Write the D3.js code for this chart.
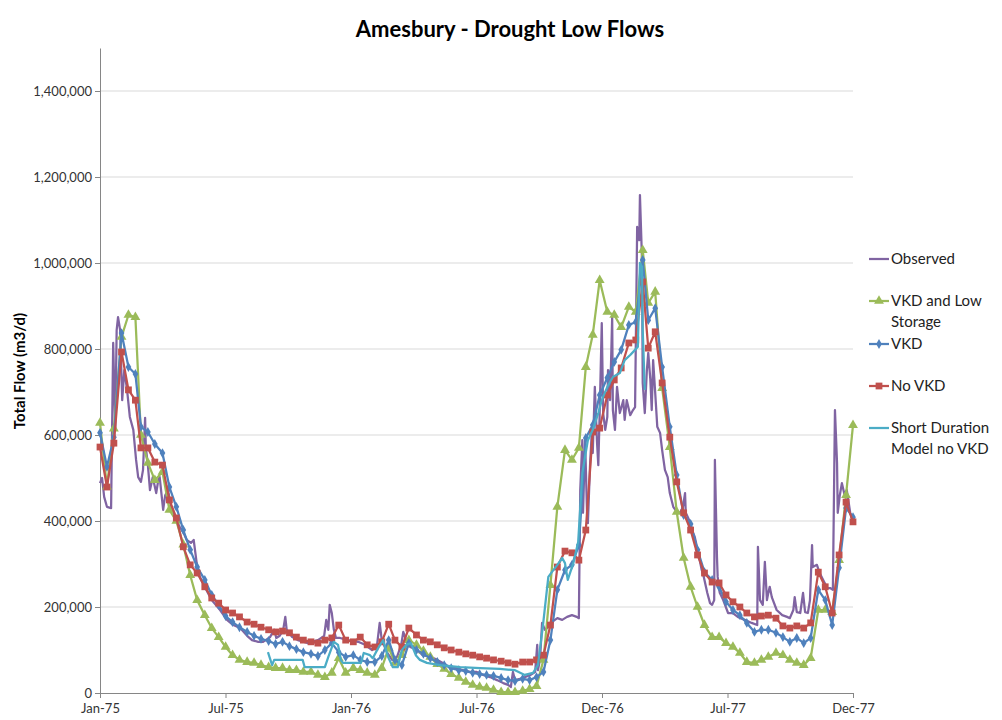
<!DOCTYPE html>
<html><head><meta charset="utf-8">
<script src="https://cdn.jsdelivr.net/npm/d3@7"></script>
<style>
body{margin:0;background:#fff}
svg text{font-family:Lato,"Open Sans",sans-serif}
</style>
</head><body>
<svg id="chart" width="1002" height="720"></svg>
<script>
// ---------- DATA ----------
const chartTitle = "Amesbury - Drought Low Flows";
const yAxisTitle = "Total Flow (m3/d)";
const xTickLabels = ["Jan-75","Jul-75","Jan-76","Jul-76","Dec-76","Jul-77","Dec-77"];
const yTickValues = [0,200000,400000,600000,800000,1000000,1200000,1400000];
const seriesNames = ["Observed","VKD and Low Storage","VKD","No VKD","Short Duration Model no VKD"];
const UNIT = 1000; // values below are in thousand m3/d

// modelled series: one value per dekad (1st, 11th, 21st of each month), Jan-1975 .. Dec-1977
const vkdLowStorage = [628,480,615,828,879,874,600,535,495,514,
 426,400,345,274,216,181,151,130,107,88,
 77,72,70,65,60,58,58,53,53,49,
 49,42,37,47,81,47,58,53,47,42,
 58,105,70,88,123,112,98,84,67,56,
 44,35,26,19,14,12,7,2,2,2,
 5,9,16,77,251,433,565,542,570,758,
 833,960,886,879,851,898,886,1030,907,933,
 709,572,421,314,247,200,158,130,130,116,
 107,93,72,70,77,84,93,88,77,70,
 65,81,193,193,188,309,460,623];
const vkd = [605,526,595,837,758,742,619,607,579,558,
 479,433,379,333,293,263,228,205,179,165,
 153,142,133,126,121,114,119,109,102,95,
 91,86,100,116,95,84,88,77,72,72,
 86,123,77,65,116,100,91,81,72,65,
 58,53,51,47,44,42,40,35,30,28,
 33,30,37,49,123,240,286,298,344,593,
 623,693,733,770,798,856,863,1007,867,895,
 758,619,507,414,393,333,281,263,247,212,
 193,181,163,142,147,147,140,130,119,128,
 116,128,240,216,158,291,430,409];
const noVKD = [572,479,581,793,705,681,570,570,537,530,
 449,407,340,298,279,247,221,209,193,186,
 177,165,160,153,147,142,144,140,130,123,
 119,116,123,128,158,123,119,130,112,107,
 119,160,123,107,151,135,123,119,112,105,
 100,95,91,88,84,81,77,74,70,67,
 72,72,77,88,158,293,330,326,309,379,
 607,616,693,728,756,814,821,956,802,840,
 721,595,491,419,379,321,279,258,256,228,
 212,200,186,177,179,181,174,156,151,156,
 151,163,281,247,186,321,444,398];

// daily-resolution series: [days since 1-Jan-1975, value]
const observed = [[0,488],[3,500],[6,456],[10,433],[16,430],[19,814],[22,612],[24,844],[26,874],[29,844],[32,681],[35,751],[39,705],[43,642],[48,612],[52,542],[55,502],[59,491],[62,519],[65,640],[66,572],[69,530],[72,472],[76,502],[81,465],[84,495],[86,502],[91,426],[94,460],[98,472],[102,437],[107,414],[111,398],[115,386],[120,374],[125,356],[131,349],[135,356],[141,281],[148,256],[161,216],[173,193],[183,170],[192,158],[202,151],[212,133],[219,123],[228,119],[235,119],[245,130],[251,147],[254,128],[259,133],[264,147],[267,177],[269,147],[277,130],[285,123],[300,116],[314,123],[323,133],[326,170],[329,147],[331,205],[334,186],[337,147],[340,128],[346,128],[357,123],[372,119],[382,112],[392,100],[399,109],[403,163],[406,123],[414,93],[421,77],[428,84],[434,112],[437,142],[441,123],[447,107],[457,100],[465,88],[476,84],[486,77],[494,70],[504,60],[514,58],[523,53],[533,49],[543,49],[552,42],[562,37],[572,30],[581,23],[588,19],[592,14],[595,49],[598,30],[605,33],[612,37],[620,42],[627,49],[630,112],[631,53],[634,77],[637,163],[641,147],[644,151],[648,158],[651,165],[659,174],[666,170],[673,177],[680,181],[687,177],[690,174],[692,472],[695,588],[696,419],[699,588],[702,407],[703,395],[706,526],[709,619],[710,558],[713,712],[716,588],[718,530],[720,651],[723,860],[725,651],[728,612],[731,642],[732,751],[735,681],[738,874],[739,658],[742,612],[745,712],[749,651],[754,681],[756,635],[759,681],[764,646],[768,658],[771,665],[774,1084],[777,1053],[778,1158],[781,1007],[782,721],[785,651],[788,751],[790,791],[793,728],[795,658],[797,774],[800,698],[803,619],[807,605],[810,565],[814,519],[818,502],[821,465],[826,433],[831,421],[836,419],[840,433],[843,465],[844,419],[849,402],[853,379],[857,363],[862,326],[867,286],[870,270],[875,233],[879,209],[882,205],[885,216],[886,542],[889,316],[890,270],[893,233],[898,216],[905,186],[912,186],[919,177],[929,170],[939,163],[947,158],[948,340],[951,216],[955,205],[958,305],[961,216],[963,233],[965,247],[968,223],[975,193],[983,181],[990,177],[994,174],[999,193],[1001,223],[1004,188],[1009,186],[1013,233],[1016,188],[1020,186],[1023,216],[1026,344],[1027,293],[1033,298],[1037,279],[1042,263],[1048,244],[1052,244],[1056,240],[1059,658],[1062,535],[1063,419],[1066,460],[1069,488],[1073,460],[1076,472],[1081,419],[1085,402]];
const shortDuration = [[242,95],[248,65],[251,77],[292,77],[295,60],[324,60],[329,84],[337,119],[343,112],[347,77],[350,70],[376,70],[380,93],[389,88],[393,81],[401,105],[408,123],[415,84],[422,60],[429,60],[435,100],[441,112],[448,116],[455,88],[461,77],[471,70],[490,65],[519,60],[548,58],[576,56],[598,53],[612,42],[624,47],[631,65],[638,153],[646,270],[651,281],[659,298],[666,314],[670,302],[674,263],[682,302],[689,351],[695,512],[703,588],[710,612],[718,651],[723,681],[731,712],[739,735],[749,744],[756,774],[764,786],[771,798],[775,805],[778,1000],[781,991],[782,844],[785,705]];

const colors = ["#8064A2","#9BBB59","#4F81BD","#C0504D","#4BACC6"];

// ---------- LAYOUT ----------
const svg = d3.select("#chart");
const plot = {left:100, right:853, top:48, bottom:693};
const startDate = new Date(1975,0,1), endDate = new Date(1977,11,21);

const dekads = [];
for (let y=1975; y<=1977; y++) for (let m=0; m<12; m++) for (const d of [1,11,21]) dekads.push(new Date(y,m,d));
const dayToDate = d => d3.timeDay.offset(startDate, d);

const x = d3.scaleTime().domain([startDate,endDate]).range([plot.left,plot.right]);
const y = d3.scaleLinear().domain([0,1500000]).range([plot.bottom,plot.top]);

// gridlines
svg.append("g").selectAll("line").data(yTickValues.filter(v=>v>0)).join("line")
  .attr("x1",plot.left).attr("x2",plot.right)
  .attr("y1",d=>y(d)).attr("y2",d=>y(d))
  .attr("stroke","#d9d9d9").attr("stroke-width",1);

// axes
const span = endDate - startDate;
const xTickDates = xTickLabels.map((l,i)=>new Date(+startDate + span*i/(xTickLabels.length-1)));
const xAxis = svg.append("g").attr("transform",`translate(0,${plot.bottom})`)
  .call(d3.axisBottom(x).tickValues(xTickDates).tickFormat((d,i)=>xTickLabels[i]).tickSize(5).tickSizeOuter(0));
xAxis.select(".domain").attr("stroke","#868686");
xAxis.selectAll(".tick line").attr("stroke","#868686");
xAxis.selectAll(".tick text").attr("font-size",13).attr("fill","#333").attr("dy","0.95em");

const yAxis = svg.append("g").attr("transform",`translate(${plot.left},0)`)
  .call(d3.axisLeft(y).tickValues(yTickValues).tickFormat(d3.format(",")).tickSize(5).tickSizeOuter(0));
yAxis.select(".domain").attr("stroke","#868686");
yAxis.selectAll(".tick line").attr("stroke","#868686");
yAxis.selectAll(".tick text").attr("font-size",13).attr("fill","#333").attr("x",-8);

// title
svg.append("text").attr("x",510).attr("y",37).attr("text-anchor","middle")
  .attr("font-size",22).attr("font-weight","bold").attr("fill","#000").text(chartTitle);
svg.append("text").attr("transform","translate(25,371) rotate(-90)").attr("text-anchor","middle")
  .attr("font-size",15).attr("font-weight","bold").attr("fill","#000").text(yAxisTitle);

// ---------- SERIES ----------
const lineGen = d3.line().x(d=>x(d[0])).y(d=>y(d[1]*UNIT));
const dailyPts = arr => arr.map(p=>[dayToDate(p[0]),p[1]]);
const dekadPts = arr => arr.map((v,i)=>[dekads[i],v]);

const series = [
  {pts:dailyPts(observed), c:colors[0], sym:null},
  {pts:dekadPts(vkdLowStorage), c:colors[1], sym:d3.symbolTriangle, size:42},
  {pts:dekadPts(vkd), c:colors[2], sym:d3.symbolDiamond, size:28},
  {pts:dekadPts(noVKD), c:colors[3], sym:d3.symbolSquare, size:46},
  {pts:dailyPts(shortDuration), c:colors[4], sym:null}
];
series.forEach(s=>{
  const g = svg.append("g");
  g.append("path").datum(s.pts).attr("d",lineGen).attr("fill","none")
   .attr("stroke",s.c).attr("stroke-width",2.25).attr("stroke-linejoin","round");
  if (s.sym){
    g.selectAll("path.m").data(s.pts).join("path").attr("class","m")
     .attr("d",d3.symbol(s.sym,s.size))
     .attr("transform",d=>`translate(${x(d[0])},${y(d[1]*UNIT)})`)
     .attr("fill",s.c);
  }
});

// ---------- LEGEND ----------
const legendRows = [
  {name:["Observed"], y:259},
  {name:["VKD and Low","Storage"], y:301},
  {name:["VKD"], y:344},
  {name:["No VKD"], y:386},
  {name:["Short Duration","Model no VKD"], y:428}
];
const lg = svg.append("g");
legendRows.forEach((r,i)=>{
  const s = series[i];
  lg.append("line").attr("x1",869).attr("x2",889).attr("y1",r.y).attr("y2",r.y)
    .attr("stroke",s.c).attr("stroke-width",2.25);
  if (s.sym) lg.append("path").attr("d",d3.symbol(s.sym,s.size)).attr("transform",`translate(879,${r.y})`).attr("fill",s.c);
  r.name.forEach((t,k)=>{
    lg.append("text").attr("x",891).attr("y",r.y+k*21).attr("dy","0.35em")
      .attr("font-size",15).attr("fill","#222").text(t);
  });
});
</script>
</body></html>
